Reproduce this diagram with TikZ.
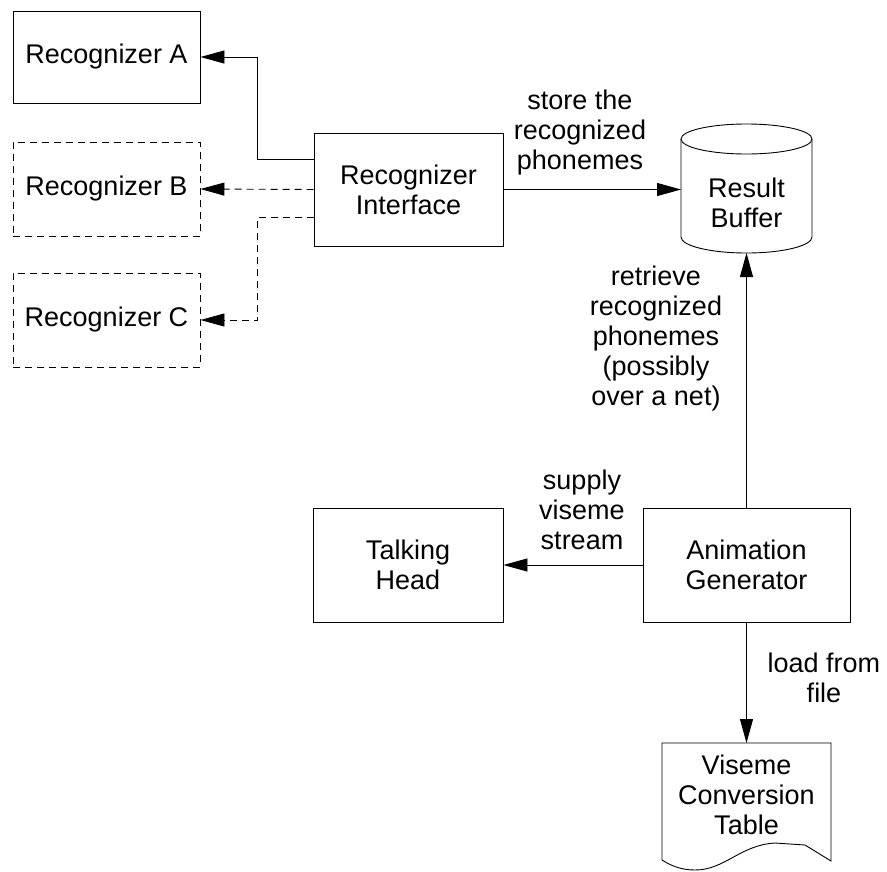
\documentclass[tikz,border=0pt]{standalone}
\usepackage{fontspec}
\setmainfont{Liberation Sans}
\usetikzlibrary{arrows.meta,calc}
\begin{document}
\begin{tikzpicture}[x=1pt,y=-1pt,
  line width=0.9pt,
  every node/.style={font=\fontsize{27}{30}\selectfont, align=center, inner sep=0pt},
  box/.style n args={2}{draw, line width=0.9pt, minimum width=#1, minimum height=#2},
  dashbox/.style={dash pattern=on 7pt off 5pt},
  arr/.style={-{Triangle[length=24pt,width=13pt]}},
  dashline/.style={dash pattern=on 7pt off 5pt}]
\useasboundingbox (0,0) rectangle (887,871);

% recognizers
\node[box={187pt}{92pt}] (recA) at (106.5,57) {Recognizer A};
\node[box={187pt}{94pt}, dashbox] (recB) at (106.5,189) {Recognizer B};
\node[box={187pt}{94pt}, dashbox] (recC) at (106.5,320) {Recognizer C};
\node[box={189pt}{113pt}] (iface) at (408.5,189.5) {Recognizer\\Interface};

% result buffer (cylinder)
\node (buf) at (746.5,203) {Result\\Buffer};
\draw (746.5,139) ellipse[x radius=65.5, y radius=15];
\draw (681,139) -- (681,237) arc[start angle=180, end angle=0, x radius=65.5, y radius=16] -- (812,139);
\coordinate (bufW) at (681,189.5);
\coordinate (bufS) at (746.5,253);

% lower row
\node[box={190pt}{114pt}] (talk) at (408,565) {Talking\\Head};
\node[box={207pt}{114pt}] (anim) at (746.5,565) {Animation\\Generator};

% viseme table (document shape)
\draw (662,860) -- (662,743) -- (831,743) -- (831,861) -- (805,845) -- (775,843)
  .. controls (740,845) and (725,870) .. (695,870)
  .. controls (680,870) and (670,865) .. (662,860) -- cycle;
\node (table) at (746.5,795) {Viseme\\Conversion\\Table};
\coordinate (tableN) at (746.5,743);

% connectors
\draw[arr] ([yshift=30.5pt]iface.west) -- ++(-56,0) |- (recA.east);
\draw[arr, dashline] (iface.west) -- (recB.east);
\draw[arr, dashline] ([yshift=-27.5pt]iface.west) -- ++(-56,0) |- (recC.east);
\draw[arr] (iface.east) -- (bufW);
\draw[arr] (anim.north) -- (bufS);
\draw[arr] (anim.west) -- (talk.east);
\draw[arr] (anim.south) -- (tableN);

% connector labels
\node (lstore) at (580,133) {store the\\recognized\\phonemes};
\node (lretr) at (656,339) {retrieve\\recognized\\phonemes\\(possibly\\over a net)};
\node (lsupply) at (582,510) {supply\\viseme\\stream};
\node (lload) at (824,678) {load from\\file};
\end{tikzpicture}
\end{document}
